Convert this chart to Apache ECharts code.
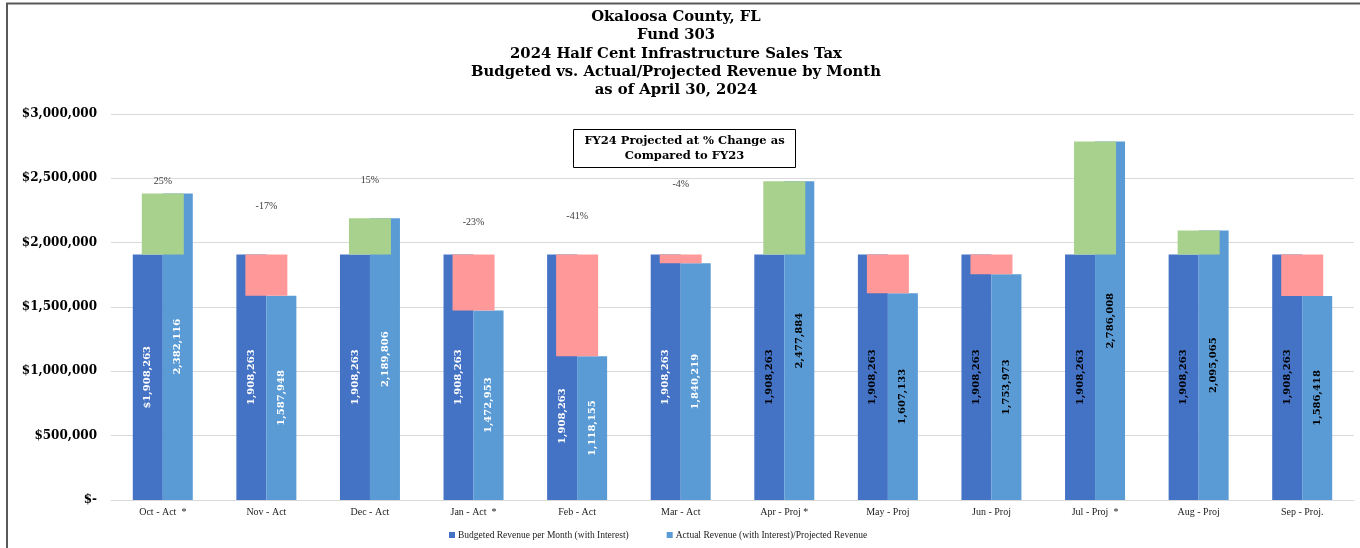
<!DOCTYPE html>
<html>
<head>
<meta charset="utf-8">
<script src="https://cdn.jsdelivr.net/npm/echarts@6/dist/echarts.min.js"></script>
<style>
html,body{margin:0;padding:0;background:#fff;}
#chart{width:1360px;height:548px;}
</style>
</head>
<body>
<div id="chart"></div>
<script>
const categories = ['Oct - Act  *','Nov - Act','Dec - Act','Jan - Act  *','Feb - Act','Mar - Act','Apr - Proj *','May - Proj','Jun - Proj','Jul - Proj  *','Aug - Proj','Sep - Proj.'];
const budgeted = [1908263,1908263,1908263,1908263,1908263,1908263,1908263,1908263,1908263,1908263,1908263,1908263];
const actual = [2382116,1587948,2189806,1472953,1118155,1840219,2477884,1607133,1753973,2786008,2095065,1586418];
const pctChange = ['25%','-17%','15%','-23%','-41%','-4%','','','','','',''];
const pctLabelLevel = [2480000,2285000,2487000,2161000,2207000,2456000,null,null,null,null,null,null];
const yTicks = [0,500000,1000000,1500000,2000000,2500000,3000000];
const legendNames = ['Budgeted Revenue per Month (with Interest)','Actual Revenue (with Interest)/Projected Revenue'];

const SERIF = '"DejaVu Serif", serif';
const SMALL = '"Liberation Serif", serif';
const fmt = v => v.toLocaleString('en-US');
const isActual = i => categories[i].indexOf('Act') >= 0;

const chart = echarts.init(document.getElementById('chart'));

const deltaBase = actual.map((a,i) => Math.min(a, budgeted[i]));
const deltaSize = actual.map((a,i) => ({
  value: Math.abs(a - budgeted[i]),
  itemStyle: { color: a >= budgeted[i] ? '#A9D18E' : '#FF9999' }
}));

function barLabel(prefixFirst) {
  return {
    show: true, position: 'inside', rotate: 90,
    fontFamily: SERIF, fontWeight: 'bold', fontSize: 10,
    formatter: p => (prefixFirst && p.dataIndex === 0 ? '$' : '') + fmt(p.value),
    color: '#fff'
  };
}

// Move a budget-bar label below the coloured difference box when they would overlap
function budgetLabelLayout(params) {
  if (params.seriesIndex !== 0) return {};
  const i = params.dataIndex;
  const low = Math.min(actual[i], budgeted[i]);
  const r = params.rect;
  const top = Math.min(r.y, r.y + r.height);
  const bottom = Math.max(r.y, r.y + r.height);
  const overlayBottom = top + (bottom - top) * (1 - low / budgeted[i]);
  const lr = params.labelRect;
  if (lr.y >= overlayBottom) return {};
  const target = (overlayBottom + bottom) / 2 - 12;
  return { x: lr.x + lr.width / 2, y: target, align: 'center', verticalAlign: 'middle' };
}

const option = {
  animation: false,
  backgroundColor: '#fff',
  title: {
    text: 'Okaloosa County, FL\nFund 303\n2024 Half Cent Infrastructure Sales Tax\nBudgeted vs. Actual/Projected Revenue by Month\nas of April 30, 2024',
    left: 671, top: 3, textAlign: 'center',
    textStyle: { fontFamily: SERIF, fontWeight: 'bold', fontSize: 14.8, lineHeight: 18.3, color: '#000' }
  },
  legend: {
    data: legendNames, left: 444, top: 525, itemWidth: 6, itemHeight: 6, itemGap: 38,
    icon: 'rect',
    textStyle: { fontFamily: SMALL, fontSize: 9.5, color: '#222', padding: [0,0,0,-2] }
  },
  grid: { left: 111, right: 6, top: 114, bottom: 48, containLabel: false },
  xAxis: [
    { type: 'category', data: categories,
      axisLine: { lineStyle: { color: '#D9D9D9', width: 1 } },
      axisTick: { show: false },
      axisLabel: { fontFamily: SMALL, fontSize: 10, color: '#222', margin: 7, interval: 0 } },
    { type: 'category', data: categories, show: false }
  ],
  yAxis: {
    type: 'value', min: yTicks[0], max: yTicks[yTicks.length-1], interval: yTicks[1]-yTicks[0],
    axisLine: { show: false }, axisTick: { show: false },
    splitLine: { lineStyle: { color: '#D9D9D9', width: 1 } },
    axisLabel: { fontFamily: SERIF, fontWeight: 'bold', fontSize: 12, color: '#000', margin: 14,
      formatter: v => v === 0 ? '$-' : '$' + fmt(v) }
  },
  series: [
    { name: legendNames[0], type: 'bar', xAxisIndex: 0, barWidth: 30, barGap: '0%', z: 2,
      itemStyle: { color: '#4472C4' },
      data: budgeted.map((v,i) => ({ value: v, label: { color: isActual(i) ? '#fff' : '#000' } })),
      label: barLabel(true), labelLayout: budgetLabelLayout },
    { name: legendNames[1], type: 'bar', xAxisIndex: 0, barWidth: 30, z: 2,
      itemStyle: { color: '#5B9BD5' },
      data: actual.map((v,i) => ({ value: v, label: { color: isActual(i) ? '#fff' : '#000' } })),
      label: barLabel(false) },
    { name: 'base', type: 'bar', xAxisIndex: 1, stack: 'delta', barWidth: 42, z: 3, silent: true,
      itemStyle: { color: 'rgba(0,0,0,0)' }, data: deltaBase },
    { name: 'delta', type: 'bar', xAxisIndex: 1, stack: 'delta', barWidth: 42, z: 3, silent: true,
      data: deltaSize },
    { name: 'pct', type: 'scatter', xAxisIndex: 0, symbolSize: 0, silent: true, z: 5,
      data: pctLabelLevel.map((v,i) => v == null ? null : [i, v]),
      label: { show: true, position: 'inside', fontFamily: SMALL, fontSize: 10, color: '#000',
        formatter: p => pctChange[p.dataIndex] } }
  ],
  graphic: [
    { type: 'line', shape: { x1: 6, y1: 3.5, x2: 1360, y2: 3.5 }, style: { stroke: '#595959', lineWidth: 2 } },
    { type: 'line', shape: { x1: 7, y1: 3, x2: 7, y2: 548 }, style: { stroke: '#595959', lineWidth: 2 } },
    { type: 'group', left: 573, top: 129, children: [
      { type: 'rect', shape: { x: 0, y: 0, width: 222, height: 38 }, style: { fill: '#fff', stroke: '#000', lineWidth: 1 } },
      { type: 'text', x: 111, y: 19, style: { text: 'FY24 Projected at % Change as\nCompared to FY23',
        fontFamily: SERIF, fontWeight: 'bold', fontSize: 11.5, lineHeight: 14.5, fill: '#000', align: 'center', verticalAlign: 'middle' } }
    ] }
  ]
};
chart.setOption(option);
</script>
</body>
</html>
